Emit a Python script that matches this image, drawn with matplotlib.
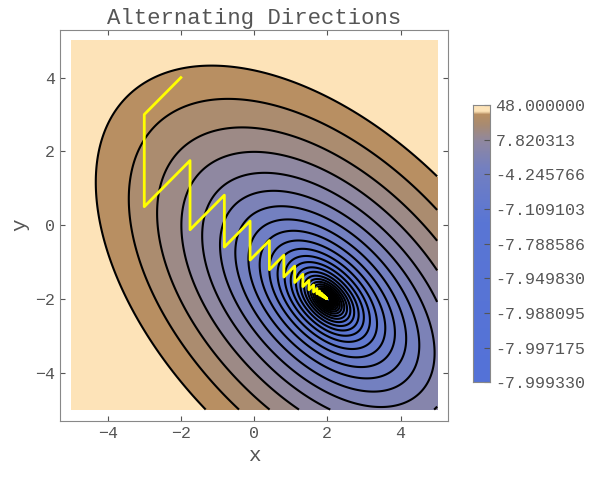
import numpy as np
import matplotlib
matplotlib.use("Agg")
import matplotlib.pyplot as plt
from matplotlib.colors import LinearSegmentedColormap

title = "Alternating Directions"
center = (2.0, -2.0)
fmin = -8.0
fmax = 48.0
start = (-2.0, 4.0)
n_steps = 40
outer_q = 30.0
n_contours = 30
cbar_labels = ["-7.999330", "-7.997175", "-7.988095", "-7.949830", "-7.788586",
               "-7.109103", "-4.245766", "7.820313", "48.000000"]

def f(x, y):
    dx, dy = x - center[0], y - center[1]
    return dx**2 + dx*dy + dy**2 + fmin

r = (0.004 / outer_q) ** (1.0 / (n_contours - 1))
clev = sorted([fmin + outer_q * r**k for k in range(n_contours)])
levels = [fmin] + clev + [fmax]

stops = [(0, "#5472d8"), (0.6, "#5a76d4"), (0.8, "#7480c0"),
         (0.9, "#9088a0"), (0.96, "#a88b72"), (1.0, "#b88f62")]
band_cmap = LinearSegmentedColormap.from_list("b", stops)
top_color = "#fde3b8"
cmap = LinearSegmentedColormap.from_list(
    "m", [(p * 0.965, c) for p, c in stops] + [(0.975, top_color), (1.0, top_color)])

fig = plt.figure(figsize=(6.13, 4.78), dpi=100)
ax = fig.add_axes([0.098, 0.12, 0.633, 0.818])
x = np.linspace(-5, 5, 800)
X, Y = np.meshgrid(x, x)
Z = np.minimum(f(X, Y), fmax - 1e-6)
nb = len(levels) - 1
colors = [band_cmap(i / (nb - 2)) for i in range(nb - 1)] + [top_color]
ax.contourf(X, Y, Z, levels=levels, colors=colors)
ax.contour(X, Y, Z, levels=clev, colors="black", linewidths=1.5, linestyles="solid")

# alternating directions path: diagonal (1,1) then y
px, py = [start[0]], [start[1]]
cx, cy = start
for i in range(n_steps):
    dx, dy = cx - center[0], cy - center[1]
    if i % 2 == 0:
        t = -(3*dx + 3*dy) / 6.0
        cx, cy = cx + t, cy + t
    else:
        cy = center[1] - dx / 2.0
    px.append(cx); py.append(cy)
ax.plot(px, py, color="yellow", lw=2)

ax.set_xlim(-5.3, 5.3)
ax.set_ylim(-5.3, 5.3)
ax.set_xticks([-4, -2, 0, 2, 4])
ax.set_yticks([-4, -2, 0, 2, 4])
grey = "#555555"
for s in ax.spines.values():
    s.set_color("#888888")
ax.tick_params(colors=grey, labelsize=12, direction="in", top=True, right=True)
for lab in ax.get_xticklabels() + ax.get_yticklabels():
    lab.set_family("Liberation Mono")
ax.set_xlabel("x", fontsize=15, color=grey, family="Liberation Mono")
ax.set_ylabel("y", fontsize=15, color=grey, family="Liberation Mono")
ax.set_title(title, fontsize=16, color=grey, family="Liberation Mono", pad=4)

cax = fig.add_axes([0.772, 0.2, 0.028, 0.58])
grad = np.linspace(0, 1, 512).reshape(-1, 1)
cax.imshow(grad, aspect="auto", cmap=cmap, origin="lower", extent=[0, 1, 0, 1])
cax.set_xticks([])
cax.yaxis.tick_right()
cax.set_yticks(np.linspace(0, 1, len(cbar_labels)))
cax.set_yticklabels(cbar_labels, family="Liberation Mono", fontsize=12, color=grey)
cax.tick_params(direction="in", length=4, colors=grey)
for s in cax.spines.values():
    s.set_color("#888888")
fig.savefig("out.png")
